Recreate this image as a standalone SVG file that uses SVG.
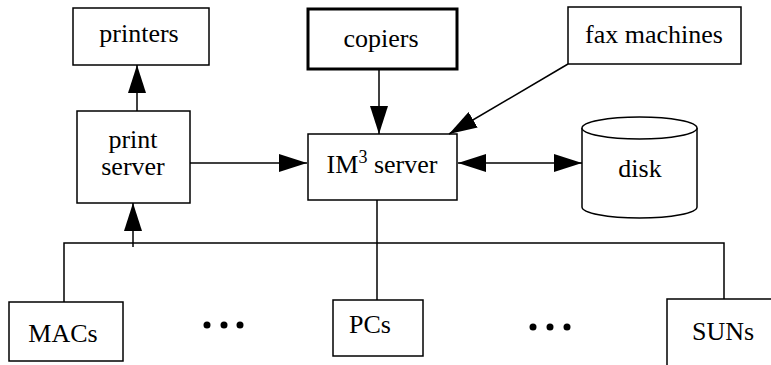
<svg xmlns="http://www.w3.org/2000/svg" width="771" height="365" viewBox="0 0 771 365" font-family="'Liberation Serif', 'DejaVu Serif', serif">
  <style>
    .box { fill: #fff; stroke: #000; stroke-width: 1.5; }
    .thick { stroke-width: 3; }
    .lbl { font-family: 'Liberation Serif', 'DejaVu Serif', serif; font-size: 26px; fill: #000; text-anchor: middle; }
    .wire { fill: none; stroke: #000; stroke-width: 1.5; }
    .arrow { marker-end: url(#head); }
    .dot { fill: #000; }
  </style>
  <defs>
    <marker id="head" markerUnits="userSpaceOnUse" markerWidth="30" markerHeight="18" refX="28" refY="9" orient="auto-start-reverse">
      <path d="M0,0 L28,9 L0,18 Z" fill="#000"/>
    </marker>
  </defs>

  <g id="printers">
    <rect class="box" x="73" y="8" width="136" height="57"/>
    <text class="lbl" x="139" y="42">printers</text>
  </g>

  <g id="print-server">
    <rect class="box" x="77" y="111" width="113" height="92"/>
    <text class="lbl" x="133" y="148">print</text>
    <text class="lbl" x="133" y="175">server</text>
  </g>

  <g id="copiers">
    <rect class="box thick" x="308" y="9" width="149" height="60"/>
    <text class="lbl" x="381" y="47">copiers</text>
  </g>

  <g id="fax-machines">
    <rect class="box" x="568" y="7" width="173" height="57"/>
    <text class="lbl" x="654" y="43">fax machines</text>
  </g>

  <g id="im3-server">
    <rect class="box" x="308" y="134" width="149" height="66"/>
    <text class="lbl" x="382" y="173">IM<tspan font-size="18px" dy="-10">3</tspan><tspan dy="10"> server</tspan></text>
  </g>

  <g id="disk">
    <path class="box" d="M582,128 L582,207 A57.5,11 0 0 0 697,207 L697,128"/>
    <ellipse class="box" cx="639.5" cy="128" rx="57.5" ry="11"/>
    <text class="lbl" x="640" y="177">disk</text>
  </g>

  <g id="macs">
    <rect class="box" x="9" y="302" width="114" height="59"/>
    <text class="lbl" x="63" y="342">MACs</text>
  </g>

  <g id="pcs">
    <rect class="box" x="333" y="300" width="90" height="56"/>
    <text class="lbl" x="370" y="333">PCs</text>
  </g>

  <g id="suns">
    <rect class="box" x="667" y="299" width="120" height="80"/>
    <text class="lbl" x="723" y="340">SUNs</text>
  </g>

  <g id="ellipsis-left">
    <circle class="dot" cx="207" cy="325" r="3.5"/>
    <circle class="dot" cx="224" cy="325" r="3.5"/>
    <circle class="dot" cx="240" cy="325" r="3.5"/>
  </g>
  <g id="ellipsis-right">
    <circle class="dot" cx="533" cy="327" r="3.5"/>
    <circle class="dot" cx="550" cy="327" r="3.5"/>
    <circle class="dot" cx="567" cy="327" r="3.5"/>
  </g>

  <g id="connectors">
    <line class="wire arrow" x1="137" y1="111" x2="137" y2="65"/>
    <line class="wire arrow" x1="190" y1="163" x2="307" y2="163"/>
    <line class="wire arrow" x1="379" y1="69" x2="379" y2="134"/>
    <line class="wire arrow" x1="568" y1="64" x2="449" y2="134"/>
    <line class="wire arrow" x1="458" y1="163" x2="582" y2="163" marker-start="url(#head)"/>
    <line class="wire arrow" x1="133" y1="247" x2="133" y2="203"/>
    <polyline class="wire" points="64,302 64,243 724,243 724,299"/>
    <line class="wire" x1="377" y1="200" x2="377" y2="300"/>
  </g>
</svg>
